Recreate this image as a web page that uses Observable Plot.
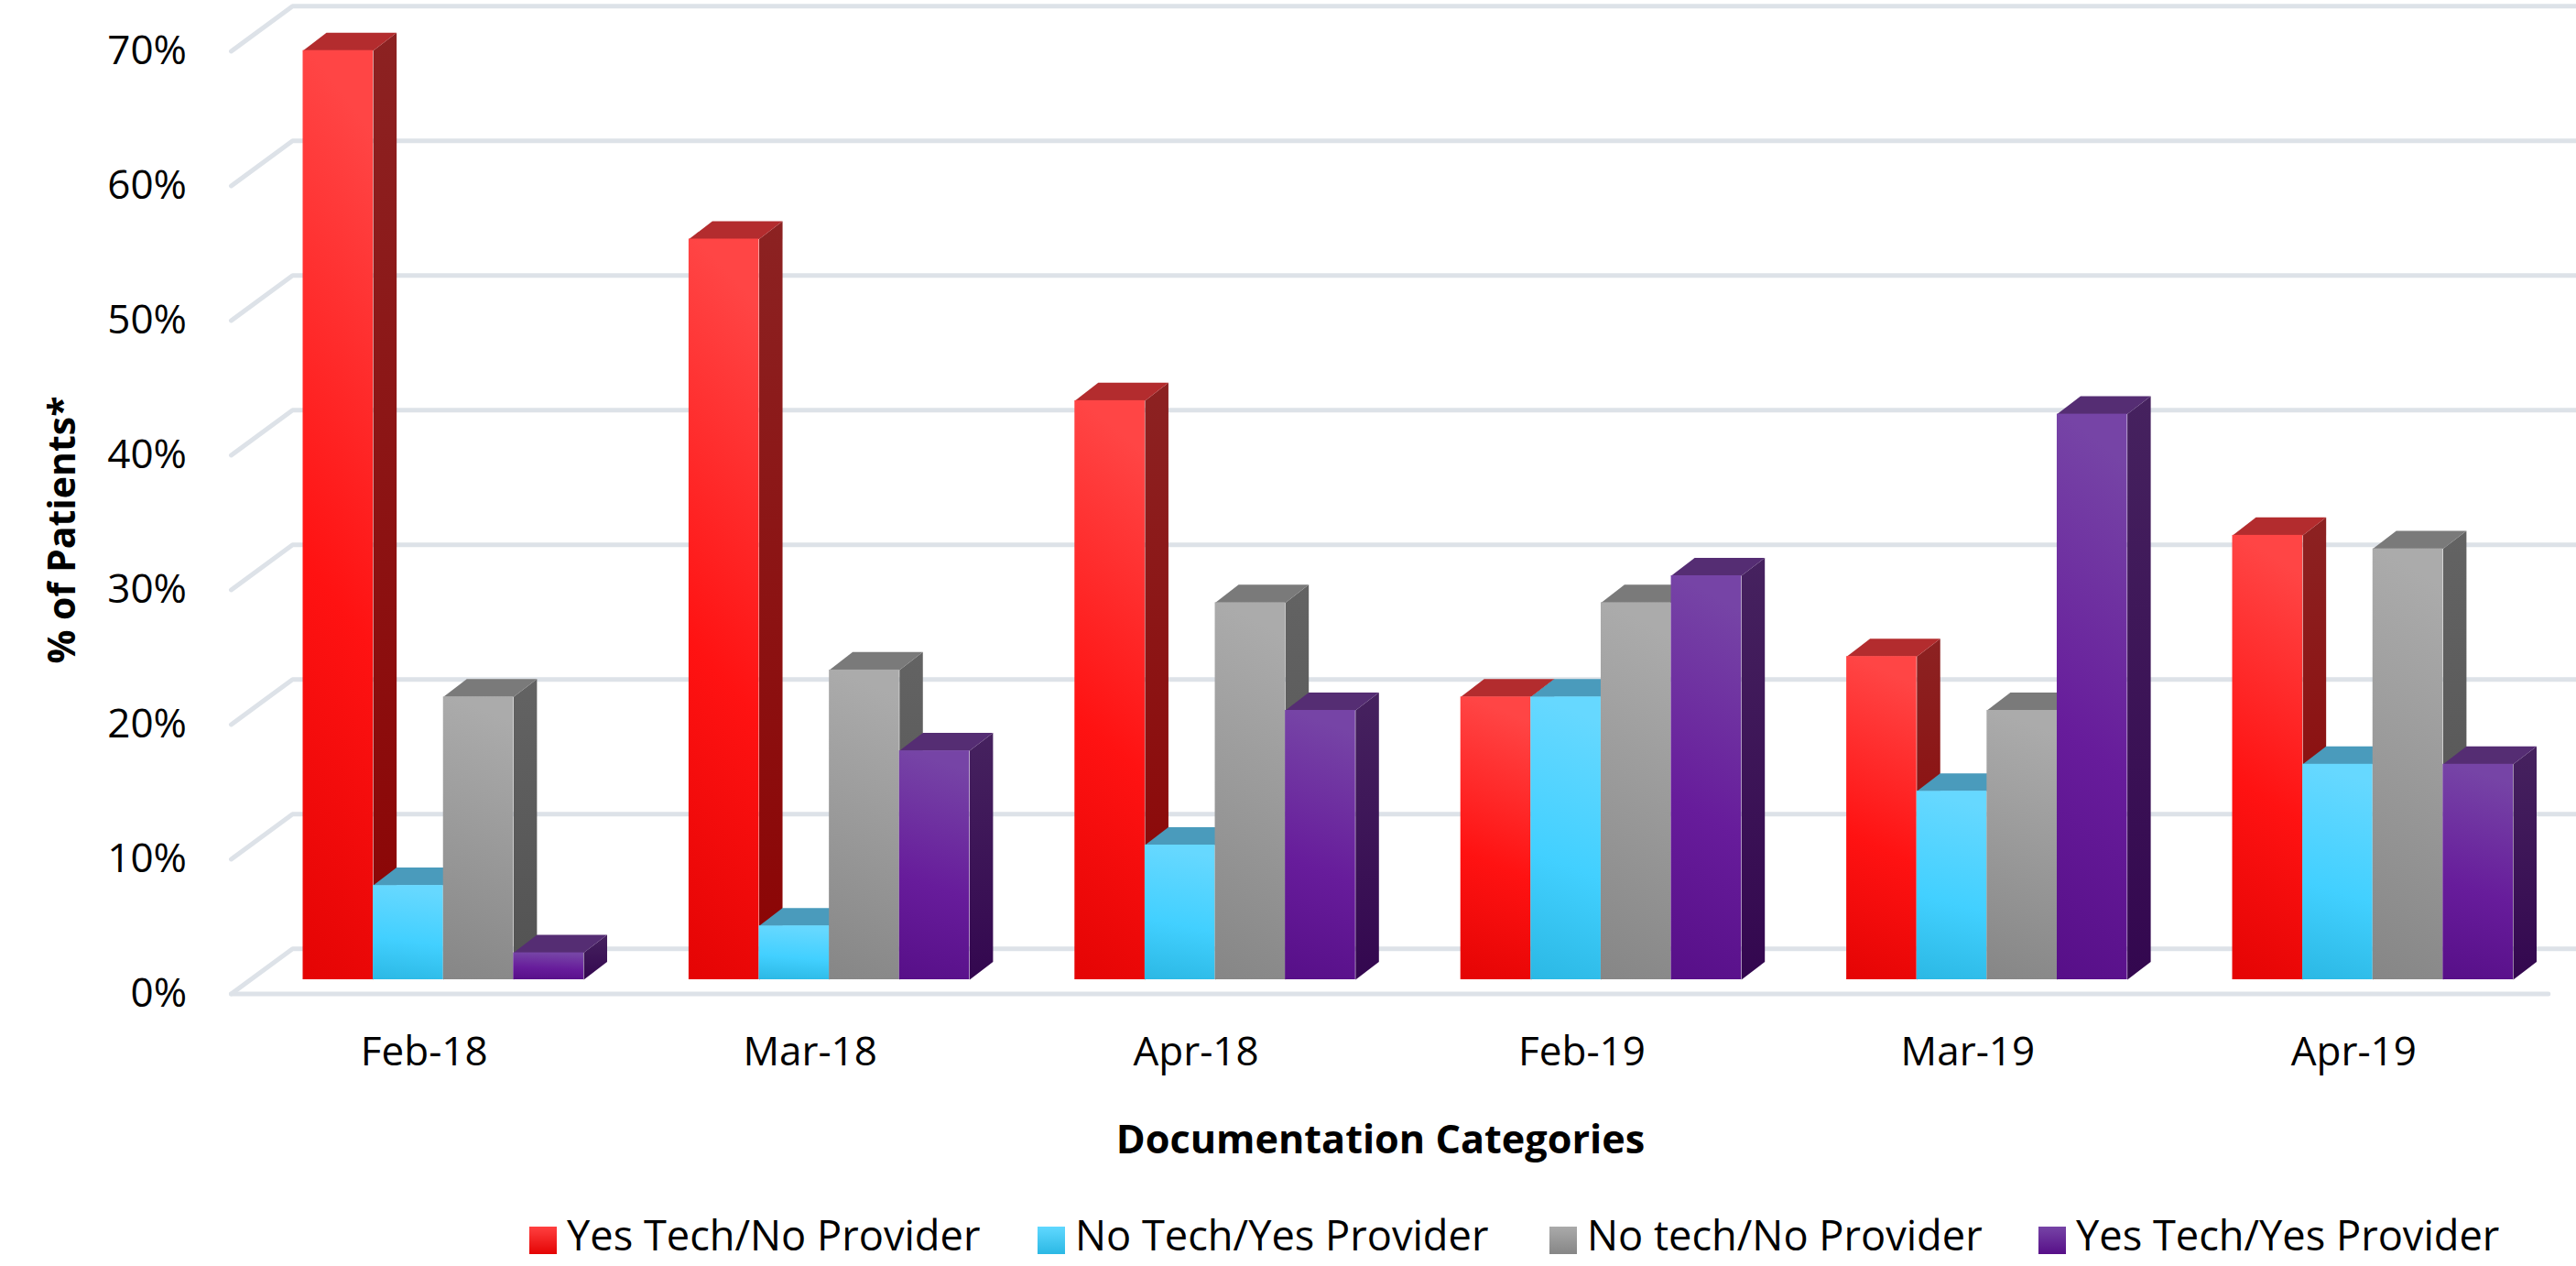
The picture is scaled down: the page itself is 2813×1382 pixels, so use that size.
<!DOCTYPE html>
<html>
<head>
<meta charset="utf-8">
<script src="https://cdn.jsdelivr.net/npm/d3@7"></script>
<script src="https://cdn.jsdelivr.net/npm/@observablehq/plot@0.6"></script>
<style>
  html, body { margin: 0; padding: 0; background: #fff; overflow: hidden; }
  body { width: 2813px; height: 1382px; font-family: "Open Sans", sans-serif; color: #000; }
  #legend { position: relative; width: 2813px; height: 72px; background: #fff; }
  .item { position: absolute; top: 0; height: 72px; }
  .swatch { position: absolute; left: 0; top: 29px; width: 30px; height: 30px; }
  .name { position: absolute; left: 41px; top: 8px; font-size: 45.2px; line-height: 60px; white-space: nowrap; }
</style>
</head>
<body>
<div id="chart"></div>
<div id="legend"></div>
<script>
const categories = ["Feb-18", "Mar-18", "Apr-18", "Feb-19", "Mar-19", "Apr-19"];
const seriesNames = ["Yes Tech/No Provider", "No Tech/Yes Provider", "No tech/No Provider", "Yes Tech/Yes Provider"];
const yesTechNoProvider = [69, 55, 43, 21, 24, 33];
const noTechYesProvider = [7, 4, 10, 21, 14, 16];
const noTechNoProvider = [21, 23, 28, 28, 20, 32];
const yesTechYesProvider = [2, 17, 20, 30, 42, 16];
const seriesValues = [yesTechNoProvider, noTechYesProvider, noTechNoProvider, yesTechYesProvider];
const yTicks = [0, 10, 20, 30, 40, 50, 60, 70];

const groupStep = 5.5, depthX = 0.333, depthY = 1.33;
const floorFrontY = -1.05, floorBackY = 2.3, floorLeftFront = -1.025, floorLeftBack = -0.15;
const floorRightFront = 32.0, floorRightBack = 32.42;

const looks = [
  {id: "red",    stops: [["0%", "#ff4545"], ["55%", "#ff1212"], ["100%", "#e40404"]], side: ["#8c2222", "#8c0404"], top: "#b32c2e"},
  {id: "blue",   stops: [["0%", "#66d8ff"], ["55%", "#42d0ff"], ["100%", "#2bb8e4"]], side: ["#3f8fae", "#2b86a6"], top: "#4a9bbc"},
  {id: "gray",   stops: [["0%", "#ababab"], ["100%", "#868686"]], side: ["#636363", "#525252"], top: "#7a7a7a"},
  {id: "purple", stops: [["0%", "#7644a6"], ["55%", "#671c9b"], ["100%", "#570f88"]], side: ["#46225f", "#33074f"], top: "#552d73"}
];

const defs = () => {
  const d = d3.create("svg:defs");
  d.html(looks.map(l => `
    <linearGradient id="front-${l.id}" x1="0.1" y1="0" x2="0" y2="1">
      ${l.stops.map(s => `<stop offset="${s[0]}" stop-color="${s[1]}"/>`).join("")}
    </linearGradient>
    <linearGradient id="side-${l.id}" x1="0" y1="0" x2="0" y2="1">
      <stop offset="0%" stop-color="${l.side[0]}"/><stop offset="100%" stop-color="${l.side[1]}"/>
    </linearGradient>`).join(""));
  return d.node();
};

const gridRows = yTicks.flatMap(v => [
  {k: v, x: floorLeftFront, y: v + floorFrontY},
  {k: v, x: floorLeftBack, y: v + floorBackY},
  {k: v, x: floorRightBack, y: v + floorBackY}
]);
const floorRows = [
  {x: floorLeftFront, y: floorFrontY},
  {x: floorRightFront, y: floorFrontY}
];

const barMarks = seriesValues.flatMap((vals, s) => {
  const rows = vals.map((v, i) => ({id: i, x: i * groupStep + s, v}));
  const side = rows.flatMap(r => [
    {id: r.id, x: r.x + 1, y: 0},
    {id: r.id, x: r.x + 1 + depthX, y: depthY},
    {id: r.id, x: r.x + 1 + depthX, y: r.v + depthY},
    {id: r.id, x: r.x + 1, y: r.v}
  ]);
  const top = rows.flatMap(r => [
    {id: r.id, x: r.x, y: r.v},
    {id: r.id, x: r.x + depthX, y: r.v + depthY},
    {id: r.id, x: r.x + 1 + depthX, y: r.v + depthY},
    {id: r.id, x: r.x + 1, y: r.v}
  ]);
  const l = looks[s];
  return [
    Plot.line(side, {x: "x", y: "y", z: "id", stroke: "none", fill: `url(#side-${l.id})`}),
    Plot.line(top, {x: "x", y: "y", z: "id", stroke: "none", fill: l.top}),
    Plot.rect(rows, {x1: "x", x2: r => r.x + 1, y1: 0, y2: "v", fill: `url(#front-${l.id})`})
  ];
});

const plot = Plot.plot({
  width: 2813,
  height: 1310,
  marginLeft: 330.5,
  marginRight: 69,
  marginTop: 40,
  marginBottom: 241,
  style: {fontFamily: '"Open Sans", sans-serif', background: "#fff", color: "#000"},
  x: {type: "linear", domain: [0, 31.5], axis: null},
  y: {type: "linear", domain: [0, 70], axis: null},
  marks: [
    defs,
    Plot.line(gridRows, {x: "x", y: "y", z: "k", stroke: "#dde2e8", strokeWidth: 5, strokeLinecap: "round", strokeLinejoin: "round"}),
    Plot.line(floorRows, {x: "x", y: "y", stroke: "#dde2e8", strokeWidth: 5, strokeLinecap: "round"}),
    ...barMarks,
    Plot.axisY({ticks: yTicks, tickSize: 0, tickPadding: 127, dy: 15, fontSize: 44, fill: "#000", tickFormat: d => d + "%", label: null}),
    Plot.axisX({ticks: categories.map((_, i) => i * groupStep + 2), tickFormat: d => categories[Math.round((d - 2) / groupStep)],
      tickSize: 0, tickPadding: 62, dx: -21, fontSize: 44, fill: "#000", label: null}),
    Plot.text(["Documentation Categories"], {frameAnchor: "bottom-left", dx: 1507 - 330.5, dy: 1245 - 1069, text: d => d,
      textAnchor: "middle", lineAnchor: "middle", fontSize: 43.2, fontWeight: "bold", fill: "#000"}),
    Plot.text(["% of Patients*"], {frameAnchor: "left", dx: 68 - 330.5, dy: 578 - 554.5, text: d => d, rotate: -90,
      textAnchor: "middle", lineAnchor: "middle", fontSize: 41, fontWeight: "bold", fill: "#000"})
  ]
});
document.getElementById("chart").appendChild(plot);

const legendLeft = [578, 1133, 1692, 2226];
const legendGradient = [
  "linear-gradient(#ff4040, #e40404)",
  "linear-gradient(#60d8ff, #2bb8e4)",
  "linear-gradient(#aaaaaa, #868686)",
  "linear-gradient(#7644a6, #570f88)"
];
const legend = d3.select("#legend");
seriesNames.forEach((name, i) => {
  const it = legend.append("div").attr("class", "item").style("left", legendLeft[i] + "px");
  it.append("div").attr("class", "swatch").style("background", legendGradient[i]);
  it.append("div").attr("class", "name").text(name);
});
</script>
</body>
</html>
